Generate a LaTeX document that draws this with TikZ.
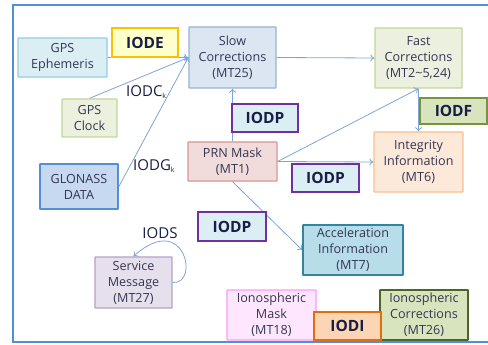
\documentclass[tikz,border=0pt]{standalone}
\usepackage{fontspec}
\setmainfont{Open Sans}
\usetikzlibrary{arrows.meta}
\definecolor{conn}{RGB}{125,165,215}
\definecolor{frame}{RGB}{80,145,210}
\definecolor{boxtxt}{RGB}{52,54,84}
\definecolor{tagtxt}{RGB}{25,30,70}
\tikzset{
  box/.style={draw, line width=1.3pt, rounded corners=0.5pt, inner sep=0pt, align=center,
    text=boxtxt, font=\fontsize{12.6}{16}\selectfont},
  tag/.style={draw, line width=1.6pt, inner sep=0pt, align=center,
    text=tagtxt, font=\fontsize{15.5}{18}\selectfont\bfseries},
  lbl/.style={text=tagtxt, inner sep=0pt, font=\fontsize{15}{18}\selectfont},
  conn/.style={draw=conn, line width=0.8pt, -{To[length=4pt,width=7pt]}},
}
\begin{document}
\begin{tikzpicture}[x=1pt,y=-1pt]
\useasboundingbox (0,0) rectangle (488,345);
\fill[white] (0,0) rectangle (488,345);
\draw[frame, line width=1.6pt] (488,5) -- (13,5) -- (13,342) -- (488,342);

% boxes
\node[box, fill={rgb,255:red,219;green,238;blue,244}, draw={rgb,255:red,147;green,205;blue,221},
  minimum width=89pt, minimum height=39pt] (eph) at (62.5,57.5) {GPS\\Ephemeris};
\node[box, fill={rgb,255:red,220;green,230;blue,242}, draw={rgb,255:red,149;green,179;blue,215},
  minimum width=87pt, minimum height=61pt] (slow) at (232.5,57.5) {Slow\\Corrections\\(MT25)};
\node[box, fill={rgb,255:red,235;green,241;blue,222}, draw={rgb,255:red,195;green,214;blue,155},
  minimum width=55pt, minimum height=38pt] (clock) at (89.5,118) {GPS\\Clock};
\node[box, fill={rgb,255:red,235;green,241;blue,222}, draw={rgb,255:red,195;green,214;blue,155},
  minimum width=87pt, minimum height=60pt] (fast) at (418.5,58) {Fast\\Corrections\\(MT2\textasciitilde5,24)};
\node[box, fill={rgb,255:red,253;green,233;blue,217}, draw={rgb,255:red,250;green,192;blue,144},
  minimum width=89pt, minimum height=60pt] (integ) at (418.5,162) {Integrity\\Information\\(MT6)};
\node[box, fill={rgb,255:red,242;green,220;blue,219}, draw={rgb,255:red,217;green,150;blue,148},
  minimum width=89pt, minimum height=39pt] (prn) at (232.5,161.5) {PRN Mask\\(MT1)};
\node[box, line width=1.8pt, fill={rgb,255:red,198;green,217;blue,241}, draw={rgb,255:red,85;green,142;blue,213},
  minimum width=78pt, minimum height=45pt] (glonass) at (79,186.5) {GLONASS\\DATA};
\node[box, fill={rgb,255:red,230;green,224;blue,236}, draw={rgb,255:red,179;green,162;blue,199},
  minimum width=77pt, minimum height=51pt] (service) at (133.5,282.5) {Service\\Message\\(MT27)};
\node[box, line width=1.8pt, fill={rgb,255:red,183;green,222;blue,232}, draw={rgb,255:red,49;green,133;blue,156},
  minimum width=100pt, minimum height=50pt] (accel) at (353,250) {Acceleration\\Information\\(MT7)};
\node[box, fill={rgb,255:red,255;green,230;blue,255}, draw={rgb,255:red,255;green,153;blue,255},
  minimum width=89pt, minimum height=50pt] (ionomask) at (271.5,315) {Ionospheric\\Mask\\(MT18)};
\node[box, line width=1.8pt, fill={rgb,255:red,215;green,228;blue,189}, draw={rgb,255:red,79;green,98;blue,40},
  minimum width=88pt, minimum height=50pt] (ionocorr) at (424,315) {Ionospheric\\Corrections\\(MT26)};

% connectors
\draw[conn] (eph.east) -- (slow.west);
\draw[conn] (clock.north) -- (slow.west);
\draw[conn] (glonass.east) -- (slow.west);
\draw[conn] (prn.north) -- (slow.south);
\draw[conn] (slow.east) -- (fast.west);
\draw[conn] (prn.east) -- (fast.south);
\draw[conn] (prn.east) -- (integ.west);
\draw[conn] (fast.south) -- (integ.north);
\draw[conn] (prn.south) -- (accel.west);
\draw[conn] (service.east) .. controls (200,285) and (185,210) .. (service.north);

% tags
\node[tag, fill={rgb,255:red,255;green,255;blue,204}, draw={rgb,255:red,255;green,192;blue,0},
  minimum width=66pt, minimum height=29pt] (iode) at (145,42.5) {IODE};
\node[tag, fill={rgb,255:red,215;green,228;blue,189}, draw={rgb,255:red,119;green,147;blue,60},
  minimum width=67pt, minimum height=26pt] (iodf) at (453.5,111) {IODF};
\node[tag, fill={rgb,255:red,219;green,238;blue,244}, draw={rgb,255:red,112;green,48;blue,160},
  minimum width=66pt, minimum height=28pt] (iodp1) at (265,118) {IODP};
\node[tag, fill={rgb,255:red,219;green,238;blue,244}, draw={rgb,255:red,112;green,48;blue,160},
  minimum width=67pt, minimum height=28pt] (iodp2) at (325.5,178) {IODP};
\node[tag, fill={rgb,255:red,219;green,238;blue,244}, draw={rgb,255:red,112;green,48;blue,160},
  minimum width=68pt, minimum height=29pt] (iodp3) at (232,226.5) {IODP};
\node[tag, fill={rgb,255:red,252;green,213;blue,181}, draw={rgb,255:red,228;green,108;blue,10},
  minimum width=67pt, minimum height=28pt] (iodi) at (347.5,326) {IODI};

% labels
\node[lbl, anchor=west] (iodc) at (126,92) {IODC\textsubscript{\fontsize{7}{8}\selectfont k}};
\node[lbl, anchor=west] (iodg) at (133,166) {IODG\textsubscript{\fontsize{7}{8}\selectfont k}};
\node[lbl] (iods) at (160,233) {IODS};
\end{tikzpicture}
\end{document}
